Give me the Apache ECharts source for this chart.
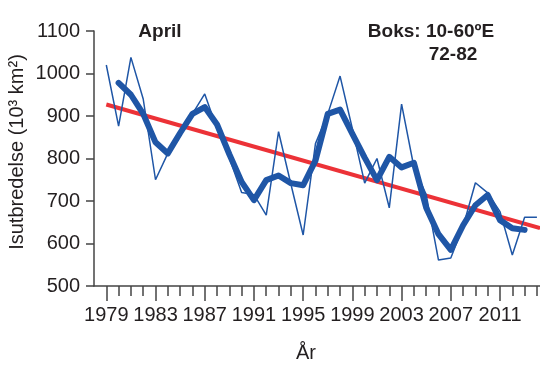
<!DOCTYPE html>
<html>
<head>
<meta charset="utf-8">
<script src="https://cdn.jsdelivr.net/npm/echarts@6/dist/echarts.min.js"></script>
<style>
  html, body { margin: 0; padding: 0; background: #fff; }
  #chart { width: 540px; height: 377px; }
</style>
</head>
<body>
<div id="chart"></div>
<script>
// aarlige verdier (tynn linje)
const years = [1979, 1980, 1981, 1982, 1983, 1984, 1985, 1986, 1987, 1988, 1989, 1990,
  1991, 1992, 1993, 1994, 1995, 1996, 1997, 1998, 1999, 2000, 2001, 2002,
  2003, 2004, 2005, 2006, 2007, 2008, 2009, 2010, 2011, 2012, 2013, 2014];
const annual = [1020, 876, 1038, 940, 750, 812, 867, 905, 952, 870, 801, 720,
  715, 667, 863, 740, 620, 835, 905, 994, 870, 742, 800, 684,
  928, 780, 715, 561, 566, 640, 743, 719, 675, 573, 662, 662];

// glattet kurve (tykk linje)
const smoothYears = [1980, 1981, 1982, 1983, 1984, 1985, 1986, 1987, 1988, 1989, 1990,
  1991, 1992, 1993, 1994, 1995, 1996, 1997, 1998, 1999, 2000, 2001, 2002,
  2003, 2004, 2005, 2006, 2007, 2008, 2009, 2010, 2011, 2012, 2013];
const smooth = [978, 950, 905, 838, 812, 860, 905, 921, 880, 810, 745,
  702, 749, 760, 742, 737, 795, 905, 915, 858, 802, 749, 804,
  779, 790, 684, 622, 585, 643, 690, 714, 655, 636, 632];

// trendlinje
const trendYears = [1979, 2014.25];
const trend = [927, 636];

const minorTickYears = years;
const labelYears = [1979, 1983, 1987, 1991, 1995, 1999, 2003, 2007, 2011];

const font = 'Liberation Sans, Arial, sans-serif';
const textColor = '#231f20';
const axisColor = '#444';

function pairs(xs, ys) {
  return xs.map((x, i) => [x, ys[i]]);
}

let myChart = echarts.init(document.getElementById('chart'), null, { renderer: 'canvas' });

let option = {
  animation: false,
  grid: { left: 94, right: 0, top: 31, bottom: 91 },
  xAxis: [
    {
      type: 'value',
      min: 1978,
      max: 2014.25,
      axisLine: { show: true, onZero: false, lineStyle: { color: axisColor, width: 1.5 } },
      axisTick: { show: true, length: 10, customValues: minorTickYears, lineStyle: { color: axisColor, width: 1.5 } },
      axisLabel: { show: false },
      splitLine: { show: false }
    },
    {
      type: 'value',
      position: 'bottom',
      min: 1978,
      max: 2014.25,
      axisLine: { show: false },
      axisTick: { show: true, length: 15, customValues: labelYears, lineStyle: { color: axisColor, width: 1.5 } },
      axisLabel: {
        show: true,
        customValues: labelYears,
        margin: 19,
        color: textColor,
        fontFamily: font,
        fontSize: 20,
        formatter: v => String(v)
      },
      splitLine: { show: false }
    }
  ],
  yAxis: {
    type: 'value',
    min: 500,
    max: 1100,
    interval: 100,
    axisLine: { show: true, lineStyle: { color: axisColor, width: 1.5 } },
    axisTick: { show: true, length: 8, lineStyle: { color: axisColor, width: 1.5 } },
    axisLabel: { margin: 14, color: textColor, fontFamily: font, fontSize: 20, formatter: v => String(v) },
    splitLine: { show: false }
  },
  graphic: [
    {
      type: 'text', x: 17, y: 152, rotation: Math.PI / 2,
      style: { text: 'Isutbredelse (10³ km²)', fill: textColor, font: '20px ' + font, textAlign: 'center', textVerticalAlign: 'middle' }
    },
    {
      type: 'text', x: 306, y: 353,
      style: { text: 'År', fill: textColor, font: '20px ' + font, textAlign: 'center', textVerticalAlign: 'middle' }
    },
    {
      type: 'text', x: 160, y: 32,
      style: { text: 'April', fill: textColor, font: 'bold 19px ' + font, textAlign: 'center', textVerticalAlign: 'middle' }
    },
    {
      type: 'text', x: 431, y: 32,
      style: { text: 'Boks: 10-60ºE', fill: textColor, font: 'bold 19px ' + font, textAlign: 'center', textVerticalAlign: 'middle' }
    },
    {
      type: 'text', x: 453, y: 55,
      style: { text: '72-82', fill: textColor, font: 'bold 19px ' + font, textAlign: 'center', textVerticalAlign: 'middle' }
    }
  ],
  series: [
    {
      name: 'Trend',
      type: 'line',
      xAxisIndex: 0,
      data: pairs(trendYears, trend),
      showSymbol: false,
      lineStyle: { color: '#ec3237', width: 4 },
      z: 2
    },
    {
      name: 'Årlig',
      type: 'line',
      xAxisIndex: 0,
      data: pairs(years, annual),
      showSymbol: false,
      lineStyle: { color: '#1f56a6', width: 1.5 },
      z: 3
    },
    {
      name: 'Glattet',
      type: 'line',
      xAxisIndex: 0,
      data: pairs(smoothYears, smooth),
      showSymbol: false,
      lineStyle: { color: '#1f56a6', width: 6, cap: 'round', join: 'round' },
      z: 4
    }
  ]
};

option && myChart.setOption(option);
</script>
</body>
</html>
